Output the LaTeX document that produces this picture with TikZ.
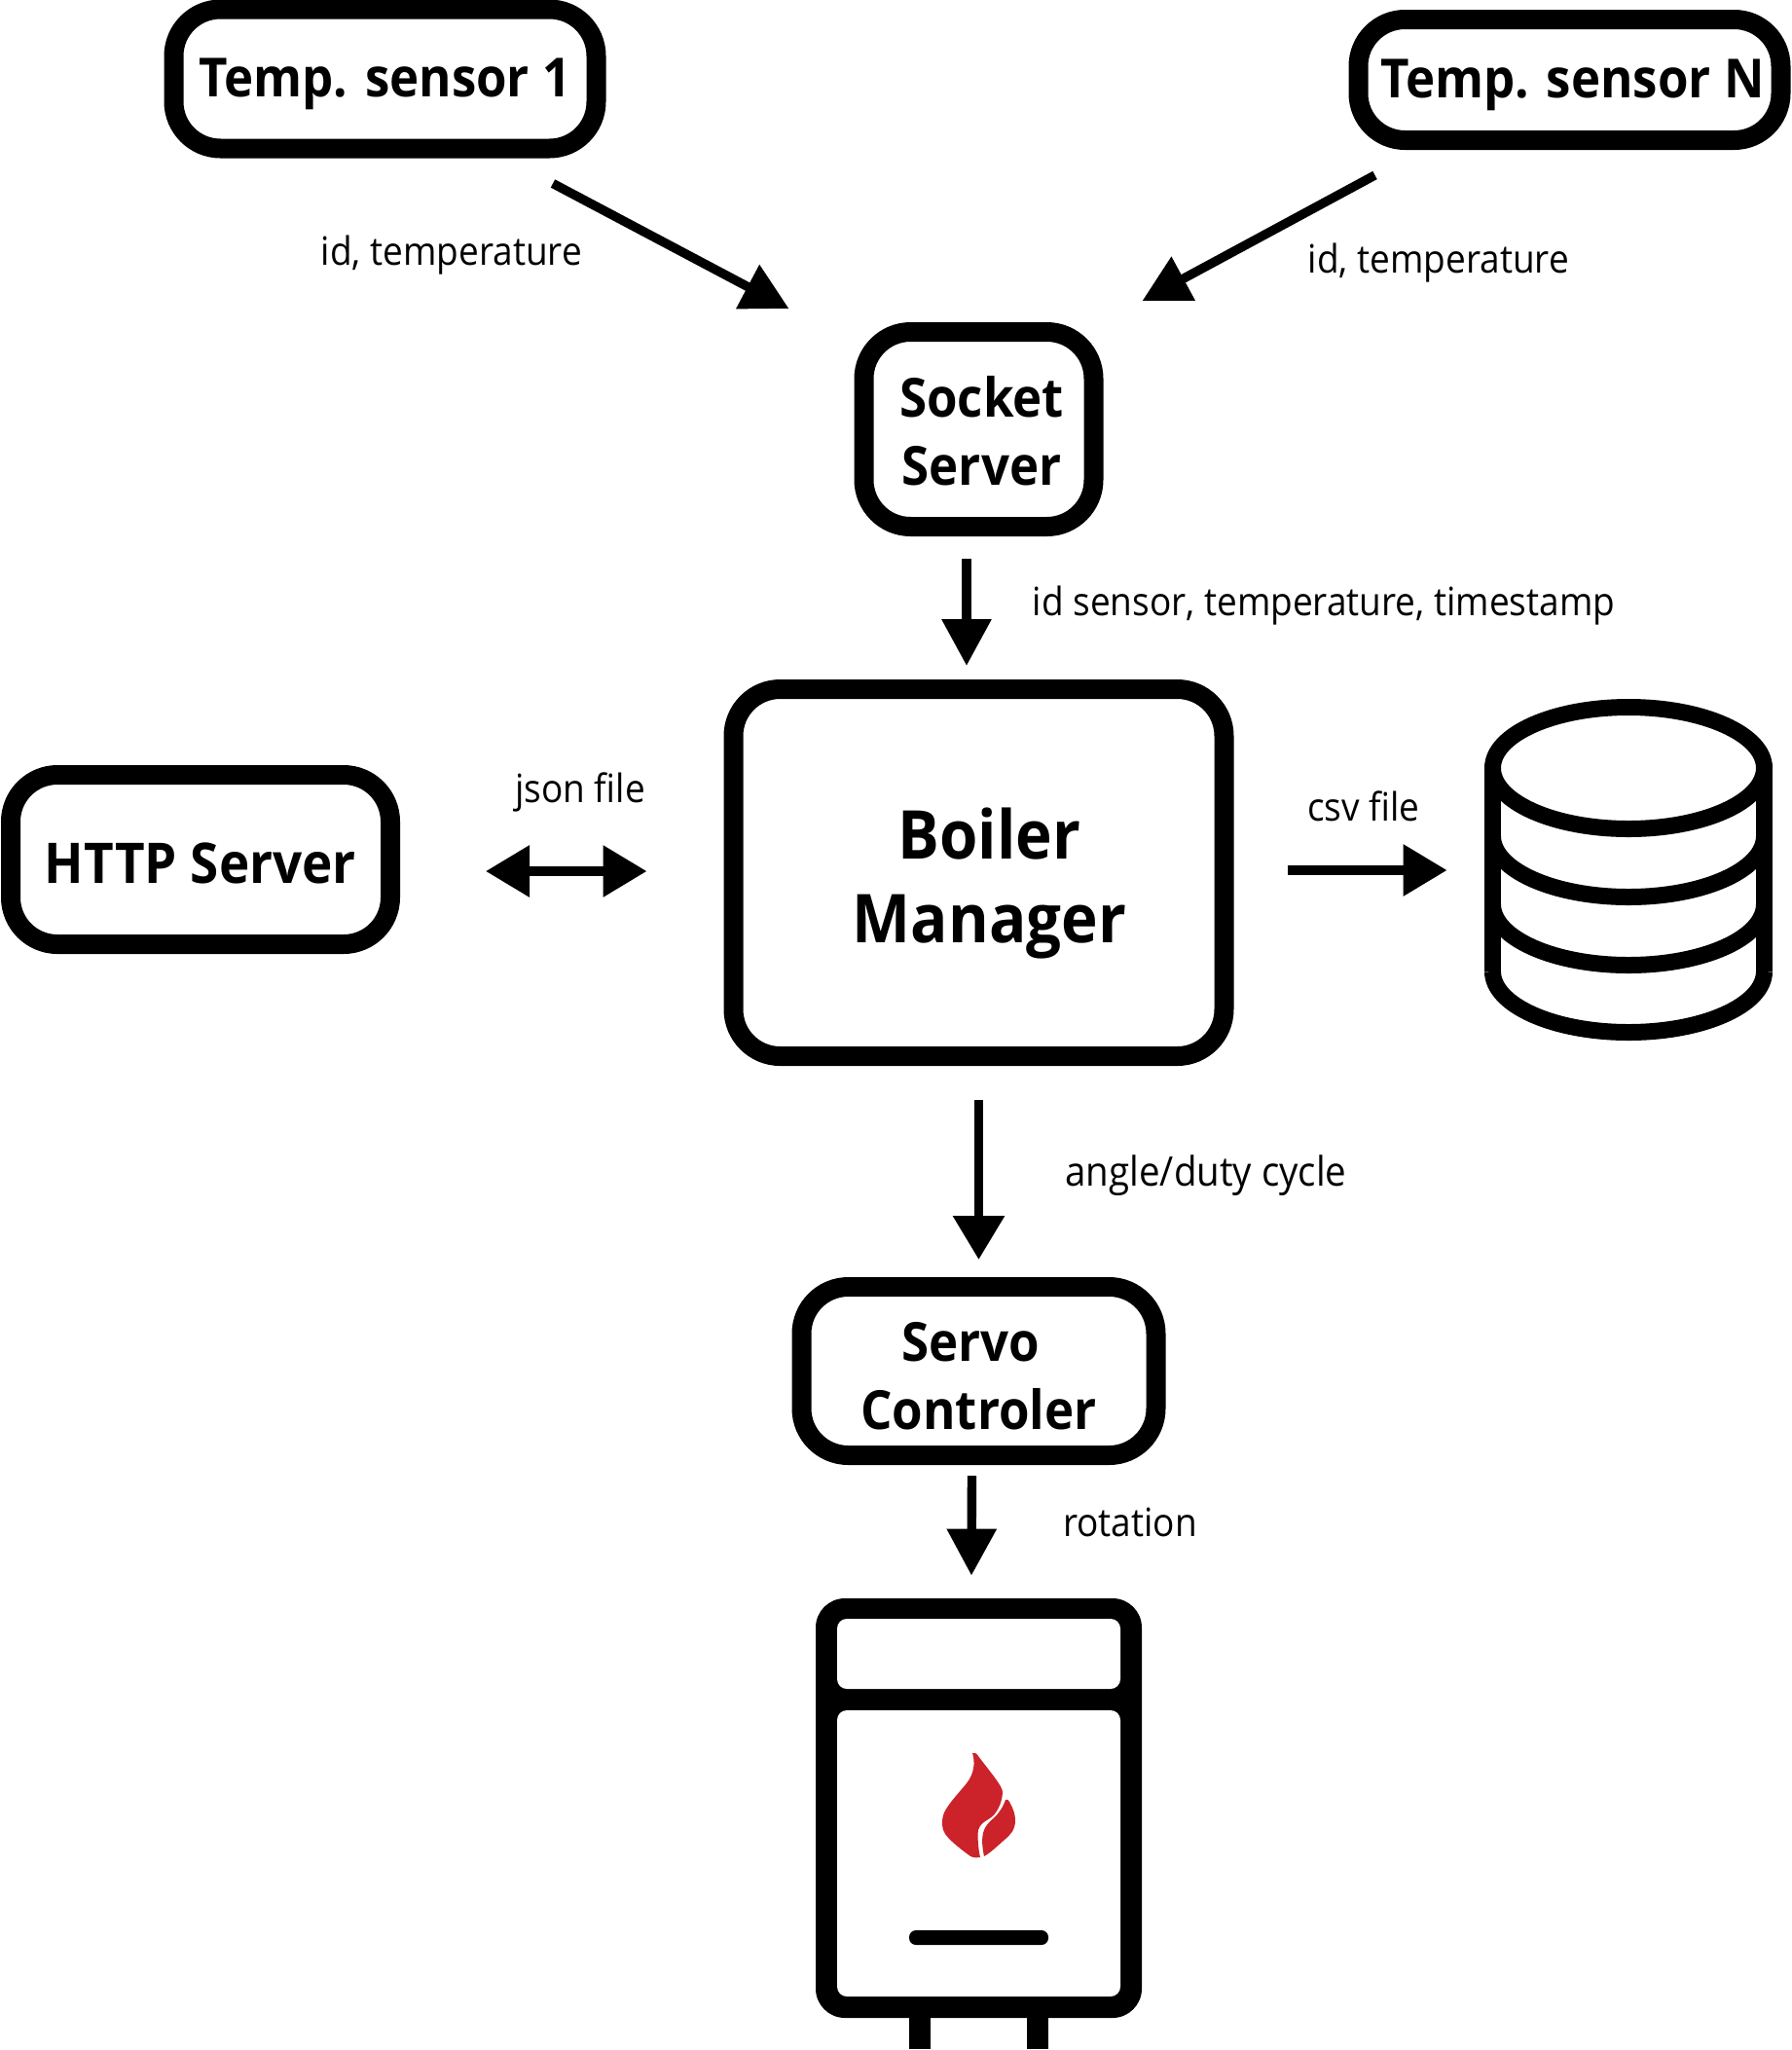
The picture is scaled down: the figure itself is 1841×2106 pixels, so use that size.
\documentclass[tikz,border=0pt]{standalone}
\usepackage{fontspec}
\setmainfont[FakeStretch=0.92]{Open Sans}
\usetikzlibrary{arrows.meta}
\definecolor{flame}{HTML}{CC2229}
\tikzstyle{bt} = [rectangle, draw, line width=10pt, align=center, inner sep=0pt,
    rounded corners=24pt, font=\fontsize{27.7}{35}\selectfont\bfseries]
\tikzstyle{lbl} = [inner sep=0pt, font=\fontsize{20.1}{24}\selectfont]
\tikzstyle{flow} = [line width=4.7pt, -{Triangle[length=22.5pt,width=25.5pt,sep=0pt]}]
\tikzstyle{flowb} = [line width=4.7pt, -{Triangle[length=24pt,width=24.5pt,sep=0pt]}]
\tikzstyle{tank} = [line width=8.5pt]
\newcommand{\tall}[1]{\rule{0pt}{#1}}

\begin{document}
\begin{tikzpicture}[x=0.5pt,y=-0.5pt]
  \useasboundingbox (0,0) rectangle (1841,2106);
  \node[bt,minimum width=217pt,minimum height=71.5pt] (s1) at (395.5,81) {\tall{25.2pt}Temp. sensor 1};
  \node[bt,minimum width=217pt,minimum height=62pt] (sN) at (1612.5,82) {\tall{25.2pt}\hspace*{3pt}Temp. sensor N};
  \node[bt,minimum width=118pt,minimum height=100pt] (sock) at (1005.5,441) {\tall{22.7pt}\hspace*{3pt}Socket\\\hspace*{3pt}Server};
  \node[bt,minimum width=252pt,minimum height=188.5pt,node distance=227.75pt,
        font=\fontsize{34.6}{43}\selectfont\bfseries] (mgr) [below of=sock] {\tall{37pt}\hspace*{11pt}Boiler\\\hspace*{11pt}Manager};
  \node[bt,minimum width=195pt,minimum height=87pt,
        font=\fontsize{28.8}{35}\selectfont\bfseries] (http) at (206,883) {\tall{25pt}HTTP Server};
  \node[bt,minimum width=182pt,minimum height=86.5pt,node distance=256pt] (servo) [below of=mgr] {\tall{25.2pt}\hspace*{-8pt}Servo\\Controler};
  \node[fill,rounded corners=15pt,minimum width=167.5pt,minimum height=215.5pt] (heater) at (1005.5,1857.5) {};
  \node[minimum width=148pt,minimum height=175.5pt,inner sep=0pt] (db) at (1673,893.5) {};

  % labels
  \node[lbl] (l1) at (464,262) {id, temperature};
  \node[lbl] (l2) at (1478,270) {id, temperature};
  \node[lbl] (l3) at (1360,622) {id sensor, temperature, timestamp};
  \node[lbl] (l4) at (596,814) {json file};
  \node[lbl] (l5) at (1401,828) {csv file};
  \node[lbl,font=\fontsize{20.9}{24}\selectfont] (l6) at (1239,1208) {angle/duty cycle};
  \node[lbl] (l7) at (1161,1564) {rotation};

  % arrows
  \draw[flowb] ([shift={(172.5,26)}]s1.south) -- ([shift={(-195,-14)}]sock.north);
  \draw[flowb] ([shift={(-200,26)}]sN.south) -- ([shift={(168,-22)}]sock.north);
  \draw[flowb] ([shift={(-12.5,23)}]sock.south) -- ([shift={(-12.5,-14)}]mgr.north);
  \draw[flow,{Triangle[length=22.5pt,width=25.5pt,sep=0pt]}-{Triangle[length=22.5pt,width=25.5pt,sep=0pt]}]
    ([shift={(88,12)}]http.east) -- ([shift={(-79,-1.5)}]mgr.west);
  \draw[flow] ([shift={(55,-2.5)}]mgr.east) -- ([shift={(-38,0.5)}]db.west);
  \draw[flow] ([shift={(0,35)}]mgr.south) -- ([shift={(0,-18)}]servo.north);
  \draw[flowb] ([shift={(-7,11)}]servo.south) -- ([shift={(-7.5,-23)}]heater.north);

  % database
  \draw[tank] (1673,789) ellipse [x radius=69.75pt,y radius=31.25pt];
  \draw[tank] (1533.5,789) -- (1533.5,998);
  \draw[tank] (1812.5,789) -- (1812.5,998);
  \foreach \yy in {859,929,998}
    \draw[tank] (1533.5,\yy) arc [start angle=180,end angle=360,x radius=69.75pt,y radius=31.25pt];

  % heater
  \fill[white,rounded corners=5pt] (860,1663) rectangle (1151,1735);
  \fill[white,rounded corners=5pt] (860,1757) rectangle (1151,2051);
  \fill (934,2060) rectangle (956,2105);
  \fill (1055,2060) rectangle (1077,2105);
  \fill[rounded corners=3.5pt] (934,1983) rectangle (1077,1998);
  \fill[flame] (999,1801) .. controls (1003,1801) and (1003,1801) .. (1005,1804)
    .. controls (1017,1820) and (1030,1835) .. (1030,1841)
    .. controls (1030,1846) and (1028,1855) .. (1023,1862)
    .. controls (1018,1870) and (1008,1870) .. (1005,1880)
    .. controls (1004,1886) and (1005,1900) .. (1007,1908)
    .. controls (1000,1909) and (998,1908) .. (993,1904)
    .. controls (985,1898) and (975,1890) .. (971,1884)
    .. controls (967,1878) and (967,1870) .. (970,1862)
    .. controls (975,1852) and (985,1842) .. (993,1832)
    .. controls (1001,1822) and (1002,1810) .. (999,1801) -- cycle;
  \fill[flame] (1033,1849) .. controls (1035,1848) and (1036,1849) .. (1037,1851)
    .. controls (1041,1858) and (1043,1864) .. (1043,1870)
    .. controls (1043,1880) and (1038,1885) .. (1032,1890)
    .. controls (1024,1897) and (1018,1903) .. (1011,1907)
    .. controls (1009,1897) and (1008,1888) .. (1011,1880)
    .. controls (1014,1872) and (1022,1868) .. (1026,1862)
    .. controls (1030,1857) and (1032,1852) .. (1033,1849) -- cycle;
\end{tikzpicture}
\end{document}
